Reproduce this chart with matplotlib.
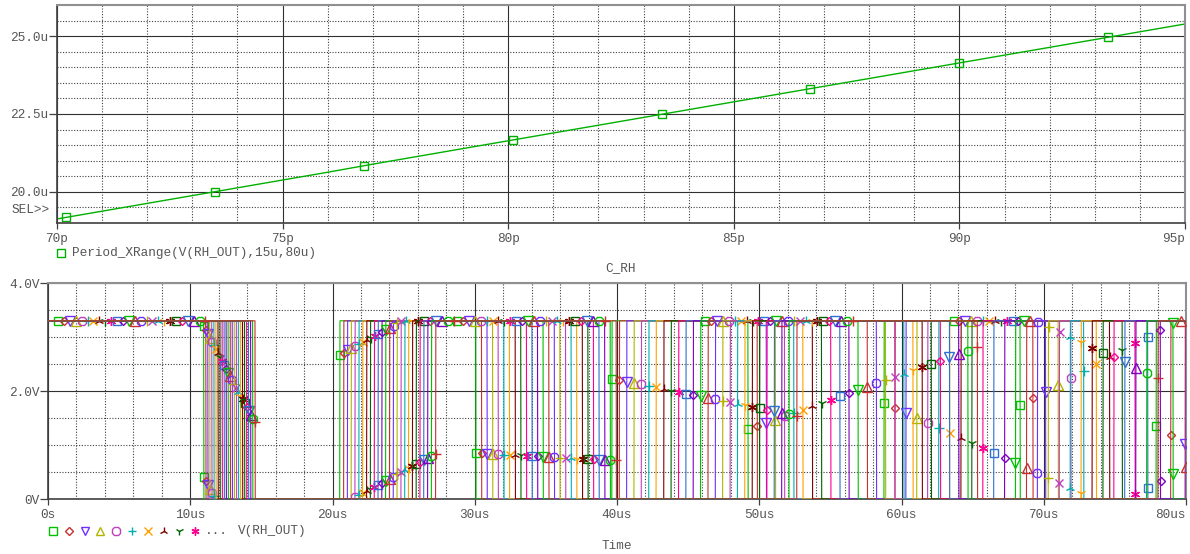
import numpy as np
import matplotlib
matplotlib.use('Agg')
import matplotlib.pyplot as plt
from matplotlib.lines import Line2D

plt.rcParams['font.family'] = ['Liberation Mono', 'DejaVu Sans Mono']

# varredura parametrica de C_RH (pF)
c_rh = [70, 71, 72, 73, 74, 75, 76, 77, 78, 79, 80, 81, 82,
        83, 84, 85, 86, 87, 88, 89, 90, 91, 92, 93, 94, 95]
# periodo medido entre 15u e 80u (us)
periodo_us = [19.13, 19.38, 19.63, 19.88, 20.13, 20.38, 20.63, 20.89, 21.14,
              21.39, 21.64, 21.89, 22.14, 22.39, 22.64, 22.89, 23.14, 23.39,
              23.64, 23.89, 24.14, 24.39, 24.64, 24.89, 25.14, 25.39]
# primeira borda de descida de cada curva (us)
descida_us = [10.94, 11.09, 11.23, 11.37, 11.51, 11.66, 11.80, 11.95, 12.09,
              12.24, 12.38, 12.52, 12.66, 12.81, 12.95, 13.09, 13.24, 13.38,
              13.52, 13.67, 13.81, 13.95, 14.09, 14.24, 14.38, 14.55]

v_alto = 3.3
v_baixo = 0.0
t_fim = 80.0
borda = 0.02  # duracao da transicao (us)

cores = ['#00c000', '#c83030', '#7030ff', '#b4b400', '#c040c0', '#00b0b0',
         '#ffa000', '#800000', '#006400', '#ff0090', '#3070d0', '#8000c0']
simbolos = ['s', 'D', 'v', '^', '8', '+', 'x', '2', '1', (6, 2, 0)]
tamanhos = [6, 4.5, 6.5, 6.5, 6.5, 6.5, 6, 7, 7, 6.5]

cinza = '#555555'
fs = 9.2
passo_px = 151  # distancia entre marcadores ao longo da curva


def marcadores(ax, x, y, inicio):
    pts = ax.transData.transform(np.column_stack([x, y]))
    seg = np.hypot(np.diff(pts[:, 0]), np.diff(pts[:, 1]))
    s = np.concatenate([[0], np.cumsum(seg)])
    alvo = np.arange(inicio, s[-1], passo_px)
    px = np.interp(alvo, s, pts[:, 0])
    py = np.interp(alvo, s, pts[:, 1])
    d = ax.transData.inverted().transform(np.column_stack([px, py]))
    return d[:, 0], d[:, 1]


def onda(t1, p):
    ts = [0.0]
    vs = [v_alto]
    nivel = v_alto
    t = t1
    while t < t_fim:
        novo = v_baixo if nivel == v_alto else v_alto
        ts += [t, t + borda]
        vs += [nivel, novo]
        nivel = novo
        t += p / 2
    ts.append(t_fim)
    vs.append(nivel)
    return ts, vs


def estilo(ax):
    ax.set_axisbelow(True)
    ax.grid(which='major', color='#303030', lw=0.8, ls='-')
    ax.grid(which='minor', color='#404040', lw=0.8, ls=(0, (1, 1.5)))
    for lado in ['left', 'bottom']:
        ax.spines[lado].set_color('#404040')
        ax.spines[lado].set_linewidth(1.2)
    for lado in ['top', 'right']:
        ax.spines[lado].set_color('#909090')
        ax.spines[lado].set_linewidth(1.5)
    ax.tick_params(axis='y', which='major', length=5.5, width=0.9, pad=0.5,
                   labelsize=fs, labelcolor=cinza, color='#404040')
    ax.tick_params(axis='x', which='major', length=4, width=0.9, pad=3.5,
                   labelsize=fs, labelcolor=cinza, color='#404040')
    ax.tick_params(which='minor', length=0)


fig = plt.figure(figsize=(11.9, 5.54), dpi=100)
ax1 = fig.add_axes([57 / 1190, 1 - 223 / 554, 1128 / 1190, 218 / 554])
ax2 = fig.add_axes([48 / 1190, 1 - 499 / 554, 1138 / 1190, 216 / 554])

# grafico de cima: periodo x capacitancia
ax1.set_xlim(70, 95)
ax1.set_ylim(19.0, 26.0)
ax1.set_xticks([70, 75, 80, 85, 90, 95])
ax1.set_xticklabels(['70p', '75p', '80p', '85p', '90p', '95p'])
ax1.set_xticks(np.arange(70, 96, 1), minor=True)
ax1.set_yticks([20.0, 22.5, 25.0])
ax1.set_yticklabels(['20.0u', '22.5u', '25.0u'])
ax1.set_yticks(np.arange(19.5, 26.0, 0.5), minor=True)
estilo(ax1)
ax1.get_xticklabels()[-1].set_horizontalalignment('right')
ax1.plot(c_rh, periodo_us, color='#00b000', lw=1)
mx, my = marcadores(ax1, c_rh, periodo_us, 9.5)
ax1.plot(mx, my, ls='none', marker='s', ms=6, mfc='none', mec='#00b000', mew=1)

# grafico de baixo: V(RH_OUT) para cada C_RH
ax2.set_xlim(0, 80)
ax2.set_ylim(0, 4)
ax2.set_xticks(np.arange(0, 81, 10))
ax2.set_xticklabels(['0s', '10us', '20us', '30us', '40us', '50us', '60us', '70us', '80us'])
ax2.set_xticks(np.arange(0, 81, 2), minor=True)
ax2.set_yticks([0, 2, 4])
ax2.set_yticklabels(['0V', '2.0V', '4.0V'])
ax2.set_yticks(np.arange(0.5, 4.0, 0.5), minor=True)
estilo(ax2)
ax2.get_xticklabels()[-1].set_horizontalalignment('right')

for i in range(len(c_rh)):
    cor = cores[i % len(cores)]
    ts, vs = onda(descida_us[i], periodo_us[i])
    ax2.plot(ts, vs, color=cor, lw=0.8, zorder=3 + i * 0.01)
    mx, my = marcadores(ax2, ts, vs, 10 + 5.9 * i)
    # marcadores sobre a borda de baixo nao aparecem
    ok = my > 0.03
    k = i % len(simbolos)
    ax2.plot(mx[ok], my[ok], ls='none', marker=simbolos[k], ms=tamanhos[k],
             mfc='none', mec=cor, mew=1, zorder=3 + i * 0.01)

# textos
fig.text(50 / 1190, 1 - 210 / 554, 'SEL>>', ha='right', va='center', fontsize=fs, color=cinza)
fig.text(621 / 1190, 1 - 268 / 554, 'C_RH', ha='center', va='center', fontsize=fs, color=cinza)
fig.text(617 / 1190, 1 - 546 / 554, 'Time', ha='center', va='center', fontsize=fs, color=cinza)

# legenda de cima
fig.add_artist(Line2D([61 / 1190], [1 - 253 / 554], transform=fig.transFigure, ls='none',
                      marker='s', ms=5.5, mfc='none', mec='#00b000', mew=1))
fig.text(72 / 1190, 1 - 253 / 554, 'Period_XRange(V(RH_OUT),15u,80u)', ha='left',
         va='center', fontsize=fs, color=cinza)

# legenda de baixo
for k in range(len(simbolos)):
    fig.add_artist(Line2D([(53 + 15.8 * k) / 1190], [1 - 531 / 554], transform=fig.transFigure,
                          ls='none', marker=simbolos[k], ms=tamanhos[k] * 0.9, mfc='none',
                          mec=cores[k], mew=1))
fig.text(205 / 1190, 1 - 531 / 554, '...', ha='left', va='center', fontsize=fs, color=cinza)
fig.text(238 / 1190, 1 - 531 / 554, 'V(RH_OUT)', ha='left', va='center', fontsize=fs, color=cinza)

fig.savefig('out.png', dpi=100)
